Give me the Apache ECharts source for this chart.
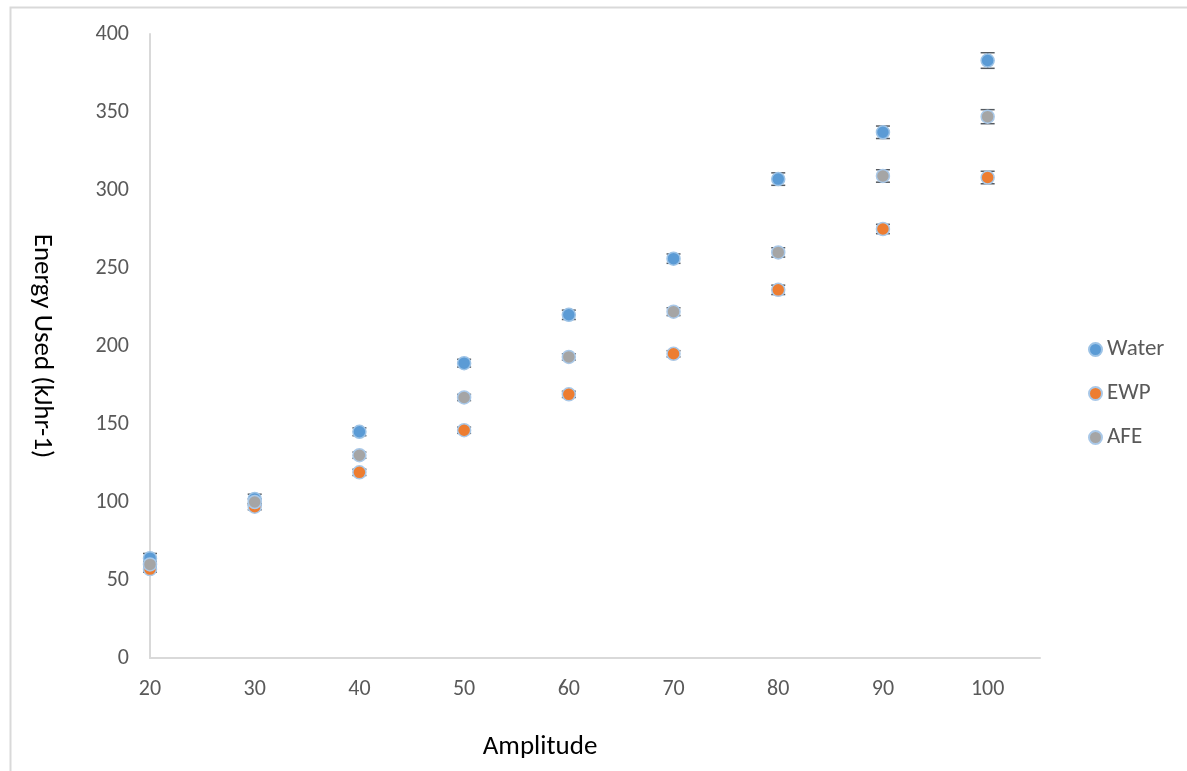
<!DOCTYPE html>
<html>
<head>
<meta charset="utf-8">
<script src="https://cdn.jsdelivr.net/npm/echarts@6/dist/echarts.min.js"></script>
<style>
html,body{margin:0;padding:0;background:#fff;}
#chart{width:1187px;height:771px;}
</style>
</head>
<body>
<div id="chart"></div>
<script>
var amplitudes = [20, 30, 40, 50, 60, 70, 80, 90, 100];
var waterValues = [64, 102, 145, 189, 220, 256, 307, 337, 383];
var ewpValues = [57, 97, 119, 146, 169, 195, 236, 275, 308];
var afeValues = [60, 100, 130, 167, 193, 222, 260, 309, 347];
var waterErr = [3, 3, 2.5, 2.5, 3, 3, 4, 4, 5];
var ewpErr = [2, 2, 2, 2, 2, 2, 3, 3, 4];
var afeErr = [2, 2, 2, 2, 2, 2.5, 3, 4, 4.5];
var yTicks = [0, 50, 100, 150, 200, 250, 300, 350, 400];

var FONT = 'Carlito, "Noto Sans", "Open Sans", sans-serif';

function pts(vals) { return amplitudes.map(function (a, i) { return [a, vals[i]]; }); }
function errs(vals, e) { return amplitudes.map(function (a, i) { return [a, vals[i] - e[i], vals[i] + e[i]]; }); }

function errSeries(name, data) {
  return {
    type: 'custom', name: name, data: data, z: 1, silent: true,
    encode: { x: 0, y: [1, 2] },
    renderItem: function (params, api) {
      var x = api.value(0);
      var lo = api.coord([x, api.value(1)]);
      var hi = api.coord([x, api.value(2)]);
      var hw = 7;
      var st = { stroke: '#555a60', lineWidth: 1.5 };
      return {
        type: 'group',
        children: [
          { type: 'line', shape: { x1: lo[0], y1: lo[1], x2: hi[0], y2: hi[1] }, style: st },
          { type: 'line', shape: { x1: lo[0] - hw, y1: lo[1], x2: lo[0] + hw, y2: lo[1] }, style: st },
          { type: 'line', shape: { x1: hi[0] - hw, y1: hi[1], x2: hi[0] + hw, y2: hi[1] }, style: st }
        ]
      };
    }
  };
}

function scatter(name, color, border, data) {
  return {
    type: 'scatter', name: name, data: data, symbol: 'circle', symbolSize: 13, z: 3,
    itemStyle: { color: color, borderColor: border, borderWidth: 1.5, opacity: 1 }
  };
}

var chart = echarts.init(document.getElementById('chart'), null, { renderer: 'canvas' });
chart.setOption({
  animation: false,
  backgroundColor: '#ffffff',
  graphic: [{
    type: 'rect', left: 8, top: 5, z: -10,
    shape: { width: 1200, height: 800 },
    style: { fill: 'none', stroke: '#d9d9d9', lineWidth: 2 }
  }],
  grid: { left: 150, right: 147, top: 34, bottom: 113 },
  legend: {
    orient: 'vertical', left: 1083, top: 333,
    data: ['Water', 'EWP', 'AFE'],
    icon: 'circle', itemWidth: 13, itemHeight: 13, itemGap: 21,
    textStyle: { color: '#595959', fontSize: 23, fontFamily: FONT }
  },
  xAxis: {
    type: 'value', min: 20, max: 105, interval: 10,
    name: 'Amplitude', nameLocation: 'middle', nameGap: 76,
    nameTextStyle: { color: '#000', fontSize: 27, fontFamily: FONT, padding: [0, 110, 0, 0] },
    axisLine: { show: true, lineStyle: { color: '#d9d9d9', width: 2 } },
    axisTick: { show: false },
    splitLine: { show: false },
    axisLabel: {
      color: '#595959', fontSize: 22, fontFamily: FONT, margin: 20,
      formatter: function (v) { return amplitudes.indexOf(v) >= 0 ? String(v) : ''; }
    }
  },
  yAxis: {
    type: 'value', min: 0, max: 400, interval: 50,
    name: 'Energy Used (kJhr-1)', nameLocation: 'middle', nameGap: 95, nameRotate: -90,
    nameTextStyle: { color: '#000', fontSize: 27, fontFamily: FONT },
    axisLine: { show: true, lineStyle: { color: '#d9d9d9', width: 2 } },
    axisTick: { show: false },
    splitLine: { show: false },
    axisLabel: {
      color: '#595959', fontSize: 22, fontFamily: FONT, margin: 21,
      formatter: function (v) { return yTicks.indexOf(v) >= 0 ? String(v) : ''; }
    }
  },
  series: [
    errSeries('errWater', errs(waterValues, waterErr)),
    errSeries('errEWP', errs(ewpValues, ewpErr)),
    errSeries('errAFE', errs(afeValues, afeErr)),
    scatter('Water', '#5B9BD5', '#9dc3e6', pts(waterValues)),
    scatter('EWP', '#ED7D31', '#a9c8e8', pts(ewpValues)),
    scatter('AFE', '#A5A5A5', '#a9c8e8', pts(afeValues))
  ]
});
</script>
</body>
</html>
